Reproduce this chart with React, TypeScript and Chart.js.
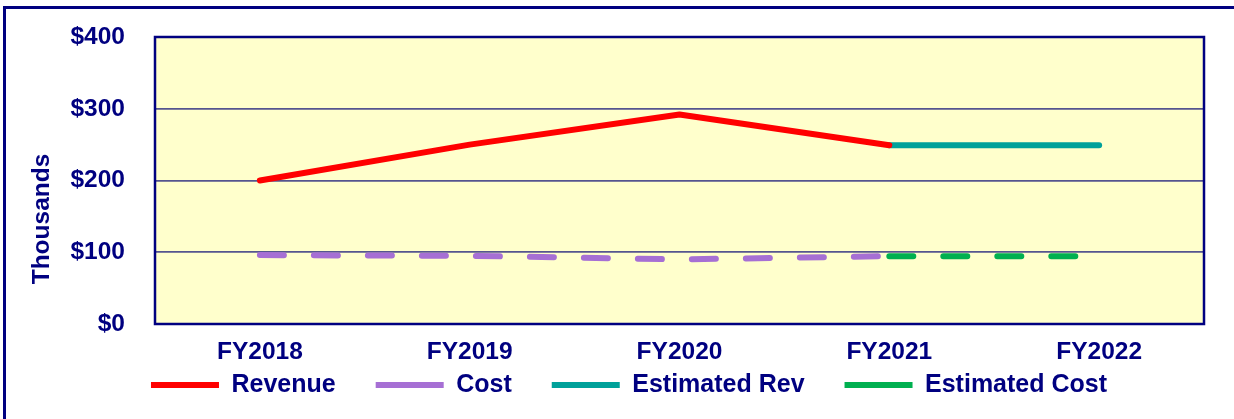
import React, { useEffect, useRef } from "react";
import { Chart, registerables } from "chart.js";

Chart.register(...registerables);

const categories = ["FY2018", "FY2019", "FY2020", "FY2021", "FY2022"];
const revenue = [200, 250, 292, 249, null];
const cost = [96, 95, 90, 94.5, null];
const estimatedRev = [null, null, null, 249, 249];
const estimatedCost = [null, null, null, 94.5, 94.5];
const yMin = 0;
const yMax = 400;
const yStep = 100;
const yTitle = "Thousands";

const NAVY = "#000080";
const FONT = "'Liberation Sans', Arial, sans-serif";

const plotDecor = {
  id: "plotDecor",
  afterLayout(chart: any) {
    // let the x tick labels use the space that the legend padding overlaps
    const x = chart.scales.x;
    if (x) {
      x.bottom = x.top + 50;
      x.height = 50;
    }
  },
  beforeDraw(chart: any) {
    const { ctx, chartArea: a } = chart;
    ctx.save();
    ctx.fillStyle = "#FFFFCC";
    ctx.fillRect(a.left, a.top, a.right - a.left, a.bottom - a.top);
    ctx.restore();
  },
  beforeDatasetsDraw(chart: any) {
    const { ctx, chartArea: a } = chart;
    ctx.save();
    ctx.strokeStyle = NAVY;
    ctx.lineWidth = 2.5;
    ctx.strokeRect(a.left, a.top, a.right - a.left, a.bottom - a.top);
    ctx.restore();
  },
  afterDraw(chart: any) {
    const { ctx } = chart;
    ctx.save();
    ctx.translate(42, 219);
    ctx.rotate(-Math.PI / 2);
    ctx.fillStyle = NAVY;
    ctx.font = `bold 24.5px ${FONT}`;
    ctx.textAlign = "center";
    ctx.textBaseline = "middle";
    ctx.fillText(yTitle, 0, 0);
    ctx.restore();
  },
};

export default function App() {
  const ref = useRef<HTMLCanvasElement | null>(null);
  useEffect(() => {
    if (!ref.current) return;
    const lineBase = {
      borderWidth: 6,
      pointRadius: 0,
      pointHoverRadius: 0,
      tension: 0,
      fill: false,
      borderCapStyle: "round",
      borderJoinStyle: "round",
      spanGaps: false,
    };
    const chart = new Chart(ref.current, {
      type: "line",
      data: {
        labels: categories,
        datasets: [
          { ...lineBase, label: "Revenue", data: revenue, borderColor: "#FF0000", backgroundColor: "#FF0000" },
          { ...lineBase, label: "Cost", data: cost, borderColor: "#A66FD4", backgroundColor: "#A66FD4", borderDash: [24, 30] },
          { ...lineBase, label: "Estimated Rev", data: estimatedRev, borderColor: "#00A19A", backgroundColor: "#00A19A" },
          { ...lineBase, label: "Estimated Cost", data: estimatedCost, borderColor: "#00B050", backgroundColor: "#00B050", borderDash: [24, 30] },
        ] as any,
      },
      options: {
        responsive: false,
        animation: false,
        devicePixelRatio: 1,
        layout: { padding: { left: 54, right: 30, top: 37, bottom: 11.5 } },
        plugins: {
          tooltip: { enabled: false },
          legend: {
            position: "bottom",
            labels: {
              usePointStyle: true,
              pointStyle: "line",
              pointStyleWidth: 68,
              boxWidth: 68,
              padding: 40,
              color: NAVY,
              font: { family: FONT, size: 25, weight: "bold" },
            },
          },
        },
        scales: {
          x: {
            offset: true,
            grid: { display: false, drawTicks: false },
            border: { display: false },
            ticks: {
              color: NAVY,
              padding: 14,
              font: { family: FONT, size: 24.5, weight: "bold" },
              maxRotation: 0,
              autoSkip: false,
            },
            afterFit(scale: any) {
              scale.height = 8.5;
            },
          },
          y: {
            min: yMin,
            max: yMax,
            grid: {
              color: "#55558f",
              lineWidth: 1.8,
              drawTicks: true,
              tickLength: 24,
              tickColor: "rgba(0,0,0,0)",
            },
            border: { display: false },
            ticks: {
              stepSize: yStep,
              color: NAVY,
              padding: 6,
              font: { family: FONT, size: 24.5, weight: "bold" },
              callback: (v: any) => "$" + v,
            },
            afterFit(scale: any) {
              scale.width = 101;
            },
          },
        },
      } as any,
      plugins: [plotDecor],
    });
    return () => chart.destroy();
  }, []);

  return (
    <div style={{ position: "fixed", left: 0, top: 0, width: 1234, height: 419, overflow: "hidden", background: "#fff" }}>
      <div
        style={{
          position: "absolute",
          left: 3,
          top: 6,
          width: 1300,
          height: 500,
          border: `3px solid ${NAVY}`,
          boxSizing: "border-box",
        }}
      />
      <canvas ref={ref} width={1234} height={419} style={{ position: "absolute", left: 0, top: 0, display: "block" }} />
    </div>
  );
}
